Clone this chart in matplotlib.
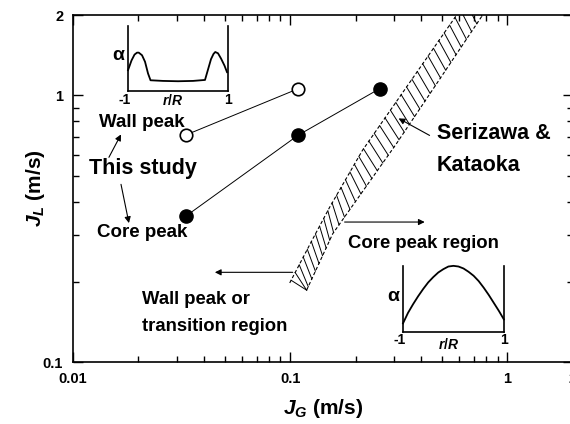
import numpy as np
import matplotlib
matplotlib.use('Agg')
import matplotlib.pyplot as plt
from matplotlib.ticker import FixedLocator, FixedFormatter, NullFormatter

plt.rcParams['font.family'] = ['Liberation Sans', 'DejaVu Sans']
plt.rcParams['font.weight'] = 'bold'
plt.rcParams['axes.labelweight'] = 'bold'
plt.rcParams['mathtext.fontset'] = 'custom'
plt.rcParams['mathtext.rm'] = 'Liberation Sans:bold'
plt.rcParams['mathtext.it'] = 'Liberation Sans:italic:bold'

# this study, superficial velocities (m/s)
wall_jg = [0.033, 0.109]
wall_jl = [0.71, 1.06]
core_jg = [0.033, 0.109, 0.258]
core_jl = [0.352, 0.71, 1.06]

# Serizawa & Kataoka transition band, left and right edges
band_left_jg = [0.0995, 0.126, 0.152, 0.215, 0.583]
band_left_jl = [0.198, 0.286, 0.381, 0.622, 2.0]
band_right_jg = [0.119, 0.157, 0.309, 0.768]
band_right_jl = [0.186, 0.303, 0.661, 2.0]

# void fraction sketches (alpha relative to sketch height)
wall_r = [-1.0, -0.93, -0.87, -0.82, -0.785, -0.72, -0.66, -0.6, -0.55,
          -0.3, 0.0, 0.3, 0.54, 0.6, 0.66, 0.71, 0.745, 0.8, 0.86, 0.93, 0.98]
wall_alpha = [0.32, 0.47, 0.56, 0.59, 0.59, 0.55, 0.45, 0.27, 0.165,
              0.155, 0.15, 0.155, 0.17, 0.33, 0.49, 0.57, 0.60, 0.58, 0.50, 0.39, 0.29]
core_r = [-1.0, -0.9, -0.8, -0.7, -0.6, -0.5, -0.4, -0.3, -0.2, -0.1, 0.0,
          0.1, 0.2, 0.3, 0.4, 0.5, 0.6, 0.7, 0.8, 0.9, 1.0]
core_alpha = [0.13, 0.29, 0.42, 0.54, 0.65, 0.75, 0.83, 0.90, 0.95, 0.99, 1.0,
              0.99, 0.96, 0.91, 0.85, 0.77, 0.67, 0.56, 0.44, 0.32, 0.19]

x_major = [0.01, 0.1, 1, 2]
x_labels = ['0.01', '0.1', '1', '2']
y_major = [0.1, 1, 2]
y_labels = ['0.1', '1', '2']
x_minor = [0.02, 0.03, 0.04, 0.05, 0.06, 0.07, 0.08, 0.09,
           0.2, 0.3, 0.4, 0.5, 0.6, 0.7, 0.8, 0.9]
y_minor = [0.2, 0.3, 0.4, 0.5, 0.6, 0.7, 0.8, 0.9]

fig = plt.figure(figsize=(5.7, 4.24), dpi=100)
ax = fig.add_axes([0.128, 0.1462, 0.877, 0.818])
ax.set_xscale('log')
ax.set_yscale('log')
ax.set_xlim(0.01, 2)
ax.set_ylim(0.1, 2)

ax.xaxis.set_major_locator(FixedLocator(x_major))
ax.xaxis.set_major_formatter(FixedFormatter(x_labels))
ax.xaxis.set_minor_locator(FixedLocator(x_minor))
ax.xaxis.set_minor_formatter(NullFormatter())
ax.yaxis.set_major_locator(FixedLocator(y_major))
ax.yaxis.set_major_formatter(FixedFormatter(y_labels))
ax.yaxis.set_minor_locator(FixedLocator(y_minor))
ax.yaxis.set_minor_formatter(NullFormatter())
ax.tick_params(which='both', direction='in', top=True, right=True, width=1.0)
ax.tick_params(which='major', length=7, pad=7, labelsize=10.5)
ax.tick_params(which='minor', length=4)
for s in ax.spines.values():
    s.set_linewidth(1.2)

ax.set_xlabel(r'$J_G$ (m/s)', fontsize=15, labelpad=8)
ax.set_ylabel(r'$J_L$ (m/s)', fontsize=15, labelpad=-3)

# data of this study
ax.plot(wall_jg, wall_jl, '-', color='k', lw=0.7, zorder=2)
ax.plot(core_jg, core_jl, '-', color='k', lw=0.7, zorder=2)
ax.plot(wall_jg, wall_jl, 'o', mfc='white', mec='k', mew=1.2, ms=9, zorder=3)
ax.plot(core_jg, core_jl, 'o', mfc='k', mec='k', ms=9.5, zorder=3)

# transition band: dashed edges and steep hatching
lxL, lyL = np.log10(band_left_jg), np.log10(band_left_jl)
lxR, lyR = np.log10(band_right_jg), np.log10(band_right_jl)


def edge(ly, ys, xs):
    if ly > ys[-1]:
        k = (xs[-1] - xs[-2]) / (ys[-1] - ys[-2])
        return xs[-1] + k * (ly - ys[-1])
    return np.interp(ly, ys, xs)


ax.plot(band_left_jg, band_left_jl, color='k', lw=0.8, ls=(0, (3, 2)))
ax.plot(band_right_jg, band_right_jl, color='k', lw=0.8, ls=(0, (3, 2)))
for ly in np.arange(lyL[0] + 0.01, 0.42, 0.029):
    ly2 = max(ly - 0.082, lyR[0])
    x0 = 10 ** edge(ly, lyL, lxL)
    x1 = 10 ** edge(ly2, lyR, lxR)
    ax.plot([x0, x1], [10 ** ly, 10 ** ly2], color='k', lw=0.7)

arrow = dict(arrowstyle='-|>', color='k', lw=0.8, mutation_scale=9,
             shrinkA=0, shrinkB=0)

ax.text(0.0208, 0.792, 'Wall peak', fontsize=13.5, ha='center', va='center')
ax.text(0.0210, 0.533, 'This study', fontsize=15.5, ha='center', va='center')
ax.text(0.0208, 0.307, 'Core peak', fontsize=13.5, ha='center', va='center')
ax.annotate('', xy=(0.01664, 0.714), xytext=(0.01464, 0.586), arrowprops=arrow)
ax.annotate('', xy=(0.0181, 0.332), xytext=(0.01664, 0.464), arrowprops=arrow)

ax.text(0.472, 0.721, 'Serizawa &', fontsize=15.5, ha='left', va='center')
ax.text(0.472, 0.547, 'Kataoka', fontsize=15.5, ha='left', va='center')
ax.annotate('', xy=(0.3155, 0.820), xytext=(0.438, 0.708), arrowprops=arrow)

ax.text(0.1838, 0.279, 'Core peak region', fontsize=13.3, ha='left', va='center')
ax.annotate('', xy=(0.416, 0.335), xytext=(0.178, 0.335), arrowprops=arrow)

ax.text(0.0208, 0.171, 'Wall peak or', fontsize=13.3, ha='left', va='center')
ax.text(0.0208, 0.136, 'transition region', fontsize=13.3, ha='left', va='center')
ax.annotate('', xy=(0.0450, 0.217), xytext=(0.1027, 0.217), arrowprops=arrow)


def sketch(rect, r, alpha, lab_y, rr_y):
    sa = fig.add_axes(rect)
    sa.set_xlim(-1, 1)
    sa.set_ylim(0, 1)
    sa.patch.set_visible(False)
    sa.spines['top'].set_visible(False)
    for s in ('left', 'right', 'bottom'):
        sa.spines[s].set_linewidth(1.2)
    sa.set_xticks([])
    sa.set_yticks([])
    sa.plot(r, alpha, color='k', lw=1.3, clip_on=False)
    sa.text(-0.1, 0.54, 'α', transform=sa.transAxes, fontsize=14,
            ha='center', va='center')
    sa.text(-0.03, lab_y, '-1', transform=sa.transAxes, fontsize=10,
            ha='center', va='center')
    sa.text(1.0, lab_y, '1', transform=sa.transAxes, fontsize=10,
            ha='center', va='center')
    sa.text(0.45, rr_y, r'$r/R$', transform=sa.transAxes, fontsize=10,
            ha='center', va='center')
    return sa


sketch([0.2246, 0.7854, 0.1754, 0.1533], wall_r, wall_alpha, -0.14, -0.14)
sketch([0.707, 0.217, 0.177, 0.156], core_r, core_alpha, -0.12, -0.19)

fig.savefig('out.png', dpi=100)
